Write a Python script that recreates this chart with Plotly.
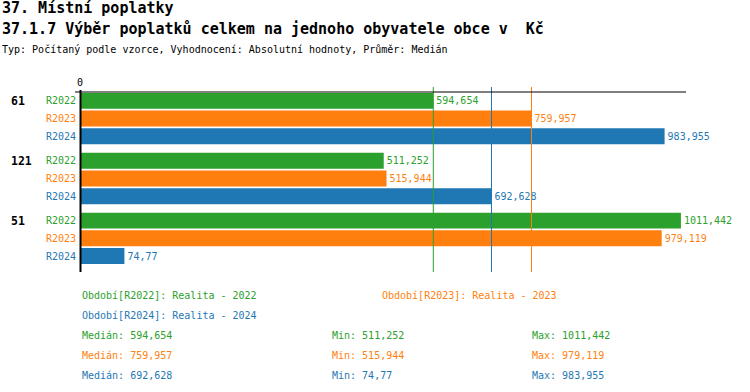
import numpy as np
import plotly.graph_objects as go

# ---- data ----
groups = ["61", "121", "51"]
series_names = ["R2022", "R2023", "R2024"]
series_desc = ["Realita - 2022", "Realita - 2023", "Realita - 2024"]
vals_2022 = [594.654, 511.252, 1011.442]
vals_2023 = [759.957, 515.944, 979.119]
vals_2024 = [983.955, 692.628, 74.77]
series_values = [vals_2022, vals_2023, vals_2024]
colors = ["#2ca02c", "#ff7f0e", "#1f77b4"]

title1 = "37. Místní poplatky"
title2 = "37.1.7 Výběr poplatků celkem na jednoho obyvatele obce v  Kč"
title3 = "Typ: Počítaný podle vzorce, Vyhodnocení: Absolutní hodnoty, Průměr: Medián"

FONT = "DejaVu Sans Mono"
W, H = 750, 392
L, R, T, B = 80, 686, 92, 272  # plot area in pixels
GROUP_STEP = 3.38
X_MAX = 1020


def px(x):
    return (x - L) / (R - L)


def py(y):
    return (B - y) / (B - T)


def fmt(v):
    return str(v).replace(".", ",")


fig = go.Figure()
for si, (name, vals, col) in enumerate(zip(series_names, series_values, colors)):
    ypos = [gi * GROUP_STEP + si for gi in range(len(groups))]
    fig.add_trace(go.Bar(
        x=vals, y=ypos, orientation="h", width=0.9,
        marker=dict(color=col, line=dict(width=0)),
        text=[fmt(v) for v in vals], textposition="outside",
        textfont=dict(family=FONT, size=10, color=col),
        constraintext="none", cliponaxis=False, name=name,
        hoverinfo="skip",
    ))

annotations = []
shapes = []

# median lines
for vals, col in zip(series_values, colors):
    med = float(np.median(vals))
    shapes.append(dict(type="line", xref="x", yref="paper", x0=med, x1=med,
                       y0=0, y1=1 + 5 / 180, layer="above", opacity=1,
                       line=dict(color=col, width=1)))

# axis lines
shapes.append(dict(type="line", xref="paper", yref="paper", x0=px(75), x1=1,
                   y0=1, y1=1, line=dict(color="black", width=1)))
shapes.append(dict(type="line", xref="paper", yref="paper", x0=px(80.5), x1=px(80.5),
                   y0=0, y1=py(90), line=dict(color="black", width=2)))

# row labels
for gi, g in enumerate(groups):
    annotations.append(dict(xref="paper", yref="y", x=px(9), y=gi * GROUP_STEP,
                            text=f"<b>{g}</b>", showarrow=False, xanchor="left",
                            yanchor="middle", font=dict(family=FONT, size=11.5, color="black")))
    for si, (name, col) in enumerate(zip(series_names, colors)):
        annotations.append(dict(xref="paper", yref="y", x=px(78), y=gi * GROUP_STEP + si,
                                text=name, showarrow=False, xanchor="right",
                                yanchor="middle", font=dict(family=FONT, size=10, color=col)))

# titles
for txt, y, size, bold in [(title1, 8, 15, True), (title2, 29, 15, True), (title3, 50, 10, False)]:
    annotations.append(dict(xref="paper", yref="paper", x=px(0), y=py(y),
                            text=f"<b>{txt}</b>" if bold else txt, showarrow=False,
                            xanchor="left", yanchor="middle",
                            font=dict(family=FONT, size=size, color="black")))

# legend lines
legend_pos = [(80, 295), (380, 295), (80, 315)]
for (x, y), name, desc, col in zip(legend_pos, series_names, series_desc, colors):
    annotations.append(dict(xref="paper", yref="paper", x=px(x), y=py(y),
                            text=f"Období[{name}]: {desc}", showarrow=False,
                            xanchor="left", yanchor="middle",
                            font=dict(family=FONT, size=10, color=col)))

# stats
for si, (vals, col) in enumerate(zip(series_values, colors)):
    y = 335 + 20 * si
    stats = [(80, f"Medián: {fmt(float(np.median(vals)))}"),
             (330, f"Min: {fmt(min(vals))}"),
             (530, f"Max: {fmt(max(vals))}")]
    for x, txt in stats:
        annotations.append(dict(xref="paper", yref="paper", x=px(x), y=py(y),
                                text=txt, showarrow=False, xanchor="left", yanchor="middle",
                                font=dict(family=FONT, size=10, color=col)))

n_max = (len(groups) - 1) * GROUP_STEP + 2
fig.update_layout(
    width=W, height=H,
    margin=dict(l=L, r=W - R, t=T, b=H - B, pad=0),
    plot_bgcolor="white", paper_bgcolor="white",
    barmode="overlay", showlegend=False,
    xaxis=dict(side="top", range=[0, X_MAX], showgrid=False, zeroline=False,
               showline=False, tickvals=[0], ticktext=["0"], ticks="",
               ticklabelstandoff=3,
               tickfont=dict(family=FONT, size=10, color="black"), fixedrange=True),
    yaxis=dict(range=[n_max + 0.9, -0.5], showgrid=False, zeroline=False,
               showline=False, showticklabels=False, ticks="", fixedrange=True),
    shapes=shapes, annotations=annotations,
)

fig.write_html("out.html", config={"displayModeBar": False},
               post_script="document.body.style.margin='0';document.body.style.padding='0';")
